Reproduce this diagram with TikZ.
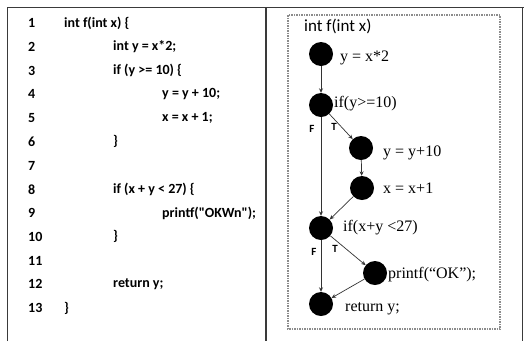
\documentclass[tikz,border=0pt]{standalone}
\usepackage{fontspec}
\setmainfont{Liberation Serif}
\newfontfamily\codefont{Carlito}
\usetikzlibrary{arrows.meta,positioning}
\definecolor{rulecol}{HTML}{3A3A3A}
\definecolor{boxcol}{HTML}{8C8C8C}
\definecolor{edgecol}{HTML}{333333}
\tikzset{
  lineno/.style={anchor=west, inner sep=0pt, font=\codefont\bfseries\fontsize{14}{16}\selectfont},
  codeline/.style={lineno},
  blob/.style={circle, fill=black, minimum size=24pt, inner sep=0pt},
  stmt/.style={anchor=west, inner sep=0pt, font=\fontsize{16}{18}\selectfont},
  flow/.style={-{Stealth[length=4.5pt,width=4pt]}, draw=edgecol, line width=0.7pt},
  branch/.style={inner sep=0pt, font=\codefont\bfseries\fontsize{11}{13}\selectfont}
}

\begin{document}
\begin{tikzpicture}[x=1pt,y=-1pt]
  \useasboundingbox (0,0) rectangle (524,341);
  % table rules
  \draw[rulecol, line width=0.8pt] (7.5,341) -- (7.5,7.5) -- (524,7.5);
  \draw[rulecol, line width=1.3pt] (266,7.5) -- (266,341);
  \draw[rulecol, line width=0.8pt] (522.5,7.5) -- (522.5,341);

  % source listing
  \foreach \n in {1,...,13}
    \node[lineno] (ln\n) at (28,{23+23.75*(\n-1)}) {\n};
  \foreach \n/\ind/\txt in {1/64/{int f(int x) \{}, 2/113/{int y = x*2;},
      3/113/{if (y >= 10) \{}, 4/162/{y = y + 10;}, 5/162/{x = x + 1;},
      6/113/{\}}, 8/113/{if (x + y < 27) \{}, 9/162/{printf("OKWn");},
      10/113/{\}}, 12/113/{return y;}, 13/64/{\}}}
    \node[codeline] (code\n) at (\ind,{23+23.75*(\n-1)}) {\txt};

  % flow graph
  \draw[boxcol, densely dotted, line width=1.5pt] (288,15) rectangle (500,329);
  \node[anchor=west, inner sep=0pt, font=\codefont\fontsize{17}{19}\selectfont] (title) at (304,26) {int f(int x)};

  \node[blob] (s1) at (321,54) {};
  \node[blob] (s2) at (321,105) {};
  \node[blob] (s3) at (361,148) {};
  \node[blob] (s4) at (362,188) {};
  \node[blob] (s5) at (321,228) {};
  \node[blob] (s6) at (375,273) {};
  \node[blob] (s7) at (321,304) {};

  \node[stmt] (t1) at (340,58) {y = x*2};
  \node[stmt] (t2) at (334,104) {if(y>=10)};
  \node[stmt] (t3) at (383,153) {y = y+10};
  \node[stmt] (t4) at (383,188) {x = x+1};
  \node[stmt] (t5) at (343,228) {if(x+y <27)};
  \node[stmt] (t6) at (388,275) {printf(“OK”);};
  \node[stmt] (t7) at (345,309) {return y;};

  \draw[flow] (s1) -- (s2);
  \draw[flow] (s2) -- (s3);
  \draw[flow] (s2) -- (s5);
  \draw[flow] (s3) -- (s4);
  \draw[flow] (s4) -- (s5);
  \draw[flow] (s5) -- (s6);
  \draw[flow] (s5) -- (s7);
  \draw[flow] (s6) -- (s7);

  \node[branch] (f1) at (312,129) {F};
  \node[branch] (tt1) at (334,127) {T};
  \node[branch] (f2) at (314,252) {F};
  \node[branch] (tt2) at (335,249) {T};
\end{tikzpicture}
\end{document}
